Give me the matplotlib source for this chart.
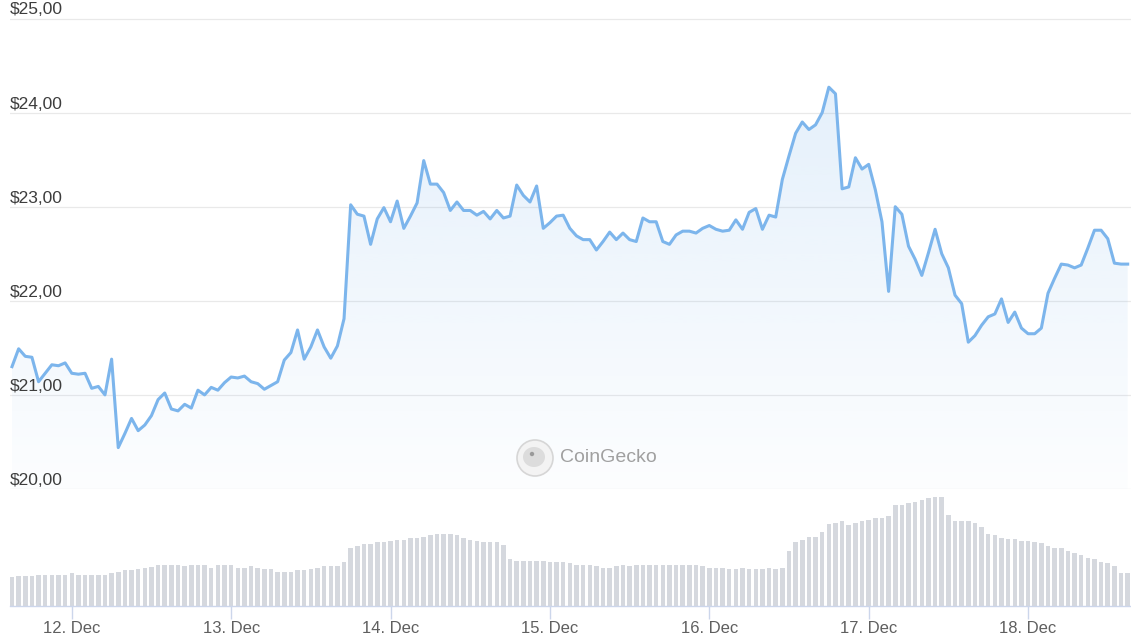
import matplotlib
matplotlib.use('Agg')
import matplotlib.pyplot as plt
import matplotlib.dates as mdates
import matplotlib.transforms as mtransforms
from matplotlib.patches import Circle, Ellipse, Polygon
import numpy as np
import pandas as pd

plt.rcParams['font.family'] = ['Liberation Sans', 'DejaVu Sans']

# hourly data, first point 11 Dec 15:00
start = '2023-12-11 15:00'
price = [21.30, 21.49, 21.41, 21.40, 21.14, 21.23, 21.32, 21.31, 21.34, 21.23,
         21.22, 21.23, 21.07, 21.09, 21.00, 21.38, 20.44, 20.59, 20.75, 20.62,
         20.68, 20.78, 20.95, 21.02, 20.85, 20.83, 20.90, 20.86, 21.05, 21.00,
         21.08, 21.05, 21.13, 21.19, 21.18, 21.20, 21.14, 21.12, 21.06, 21.10,
         21.14, 21.37, 21.45, 21.69, 21.38, 21.51, 21.69, 21.51, 21.39, 21.52,
         21.81, 23.02, 22.92, 22.90, 22.60, 22.87, 22.99, 22.84, 23.06, 22.77,
         22.90, 23.04, 23.49, 23.24, 23.24, 23.15, 22.96, 23.05, 22.96, 22.96,
         22.91, 22.95, 22.87, 22.96, 22.88, 22.90, 23.23, 23.12, 23.05, 23.22,
         22.77, 22.83, 22.90, 22.91, 22.77, 22.69, 22.65, 22.65, 22.54, 22.63,
         22.73, 22.65, 22.72, 22.65, 22.63, 22.88, 22.84, 22.84, 22.63, 22.60,
         22.70, 22.74, 22.74, 22.72, 22.77, 22.80, 22.76, 22.74, 22.75, 22.86,
         22.76, 22.94, 22.98, 22.76, 22.91, 22.89, 23.29, 23.54, 23.78, 23.90,
         23.82, 23.87, 24.00, 24.27, 24.20, 23.19, 23.21, 23.52, 23.40, 23.45,
         23.18, 22.84, 22.10, 23.00, 22.92, 22.58, 22.44, 22.27, 22.51, 22.76,
         22.50, 22.35, 22.06, 21.97, 21.56, 21.63, 21.74, 21.83, 21.86, 22.02,
         21.77, 21.88, 21.71, 21.65, 21.65, 21.71, 22.08, 22.24, 22.39, 22.38,
         22.35, 22.38, 22.56, 22.75, 22.75, 22.66, 22.40, 22.39, 22.39]
volume = [28.7, 30.0, 30.0, 30.0, 31.0, 31.0, 31.0, 31.0, 31.0, 32.7,
          31.0, 31.0, 31.0, 31.0, 31.0, 32.7, 34.0, 35.7, 35.7, 36.7,
          38.0, 39.3, 41.0, 41.0, 41.0, 41.0, 40.0, 41.0, 41.0, 41.0,
          38.3, 41.0, 41.0, 41.0, 38.3, 38.3, 39.7, 38.3, 37.0, 37.0,
          34.3, 34.3, 34.3, 35.7, 35.7, 36.7, 38.0, 39.7, 39.7, 39.7,
          44.0, 57.7, 59.7, 62.0, 62.0, 63.7, 63.7, 65.0, 66.3, 66.3,
          67.7, 67.7, 69.3, 71.0, 72.0, 72.0, 72.0, 70.7, 67.7, 66.3,
          65.0, 63.7, 63.7, 63.7, 60.7, 46.7, 45.3, 45.3, 45.3, 45.3,
          45.3, 44.0, 44.0, 44.0, 42.7, 41.0, 41.0, 41.0, 39.7, 38.0,
          38.0, 39.7, 41.0, 39.7, 41.0, 41.0, 41.0, 41.0, 41.0, 41.0,
          41.0, 41.0, 41.0, 41.0, 39.7, 38.0, 38.0, 38.0, 37.0, 37.0,
          38.0, 37.0, 37.0, 37.0, 38.3, 37.0, 38.3, 55.3, 63.7, 66.3,
          69.3, 69.3, 73.7, 82.0, 83.3, 84.7, 80.7, 83.3, 84.7, 86.0,
          87.7, 87.7, 90.3, 101.0, 101.0, 102.7, 104.3, 106.0, 107.7, 109.0,
          109.0, 90.7, 84.7, 84.7, 84.7, 83.3, 79.3, 72.0, 70.7, 68.0,
          66.7, 66.7, 65.3, 65.3, 64.0, 62.7, 59.7, 58.3, 58.3, 55.3,
          52.7, 51.0, 48.3, 47.0, 44.0, 42.7, 39.7, 32.7, 32.7]
day_ticks = ['2023-12-12', '2023-12-13', '2023-12-14', '2023-12-15',
             '2023-12-16', '2023-12-17', '2023-12-18']
day_labels = ['12. Dec', '13. Dec', '14. Dec', '15. Dec', '16. Dec', '17. Dec', '18. Dec']
price_ticks = [20, 21, 22, 23, 24, 25]
price_labels = ['$20,00', '$21,00', '$22,00', '$23,00', '$24,00', '$25,00']

W, H = 1131, 640
fig = plt.figure(figsize=(W / 100, H / 100), dpi=100)
fig.patch.set_facecolor('white')
ax = fig.add_axes([10 / W, 151 / H, 1121 / W, 489 / H])
axv = fig.add_axes([10 / W, 34 / H, 1121 / W, 116 / H])

times = pd.date_range(start, periods=len(price), freq='h')
x = mdates.date2num(times)
xlim = (x[0] - 0.3 / 24, x[0] + 168.5 / 24)

# price line + gradient fill
line_color = '#7cb5ec'
verts = np.column_stack([np.r_[x[0], x, x[-1]], np.r_[20, price, 20]])
clip = Polygon(verts, closed=True, facecolor='none', edgecolor='none')
ax.add_patch(clip)
n = 256
grad = np.zeros((n, 1, 4))
grad[:, 0, :3] = matplotlib.colors.to_rgb(line_color)
grad[:, 0, 3] = np.linspace(0.2, 0.02, n)
img = ax.imshow(grad, extent=[x[0], x[-1], 20, max(price)], aspect='auto',
                origin='upper', zorder=1, interpolation='bilinear')
img.set_clip_path(clip)
ax.plot(x, price, color=line_color, lw=2.2, solid_joinstyle='round', zorder=3)

for v in price_ticks:
    ax.axhline(v, color='#e9e9e9', lw=0.9, zorder=0)
blend = mtransforms.blended_transform_factory(ax.transAxes, ax.transData)
lab_tr = mtransforms.offset_copy(blend, fig=fig, y=4, units='dots')
for v, s in zip(price_ticks, price_labels):
    ax.text(0, v, s, transform=lab_tr, ha='left', va='baseline',
            fontsize=12.5, color='#3d3d3d', zorder=4)

ax.set_xlim(xlim)
ax.set_ylim(20, 25 + 18.5 / 94.1)
ax.set_xticks([])
ax.set_yticks([])
for sp in ax.spines.values():
    sp.set_visible(False)
ax.patch.set_alpha(0)

# volume bars
axv.bar(x, volume, width=0.68 / 24, color='#d5d8de', align='center', zorder=2)
axv.set_xlim(xlim)
axv.set_ylim(0, 116)
axv.set_yticks([])
axv.set_xticks(mdates.date2num(pd.to_datetime(day_ticks)))
axv.set_xticklabels(day_labels)
axv.tick_params(axis='x', length=9.4, width=1, color='#ccd6eb',
                labelcolor='#5f5f5f', labelsize=12, pad=1.5)
for k, sp in axv.spines.items():
    sp.set_visible(k == 'bottom')
axv.spines['bottom'].set_color('#ccd6eb')
axv.spines['bottom'].set_linewidth(1)
axv.patch.set_alpha(0)

# CoinGecko watermark
ident = mtransforms.IdentityTransform()
cx, cy = 535, H - 458
fig.patches.append(Circle((cx, cy), 18, transform=ident, facecolor='#f3f3f3',
                          edgecolor='#d6d6d6', lw=1.2, zorder=5))
fig.patches.append(Ellipse((cx - 1, cy + 1), 22, 20, transform=ident,
                           facecolor='#dcdcdc', edgecolor='none', zorder=6))
fig.patches.append(Circle((cx - 3, cy + 4), 2.2, transform=ident,
                          facecolor='#9a9a9a', edgecolor='none', zorder=7))
fig.text(560 / W, 1 - 458 / H, 'CoinGecko', fontsize=14, color='#a0a0a0',
         ha='left', va='center')

fig.savefig('out.png', dpi=100, facecolor='white')
